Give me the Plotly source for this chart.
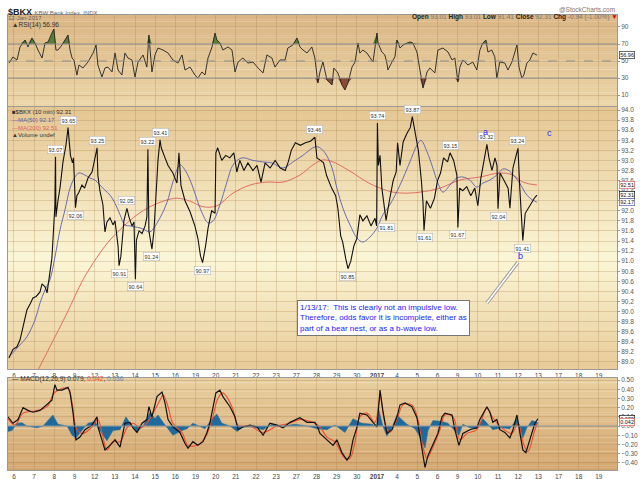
#######
# $BKX 10-minute chart with RSI(14), MAs and MACD panels
# (StockCharts style, three stacked panels)
######
import plotly.graph_objs as go
import numpy as np

# trading days from Dec 6 2016 (index 0) to Jan 19 2017 (index 29)
day_labels = ['6', '7', '8', '9', '12', '13', '14', '15', '16', '19', '20', '21', '22', '23',
              '27', '28', '29', '30', '<b>2017</b>', '4', '5', '6', '9', '10', '11', '12', '13',
              '17', '18', '19']

# price (closes incl. the spike extremes), x in trading days
price_t = [-0.25, -0.05, 0.15, 0.30, 0.45, 0.64, 0.80, 0.94, 1.10, 1.29,
           1.39, 1.54, 1.64, 1.74, 1.88, 1.98, 2.03, 2.06, 2.08, 2.18,
           2.28, 2.43, 2.58, 2.68, 2.73, 2.80, 2.90, 2.95, 3.05, 3.12,
           3.22, 3.37, 3.50, 3.67, 3.87, 4.02, 4.12, 4.16, 4.26, 4.41,
           4.51, 4.61, 4.76, 4.91, 5.01, 5.16, 5.21, 5.30, 5.45, 5.60,
           5.70, 5.85, 5.95, 6.02, 6.07, 6.20, 6.35, 6.50, 6.59, 6.64,
           6.69, 6.84, 6.94, 7.04, 7.14, 7.24, 7.30, 7.49, 7.64, 7.88,
           8.08, 8.18, 8.28, 8.48, 8.73, 8.97, 9.12, 9.25, 9.35, 9.50,
           9.62, 9.80, 9.97, 10.01, 10.10, 10.30, 10.50, 10.70, 10.90, 11.05,
           11.20, 11.40, 11.60, 11.85, 12.05, 12.25, 12.45, 12.70, 12.95, 13.20,
           13.45, 13.60, 13.75, 13.95, 14.20, 14.45, 14.70, 14.92, 15.02, 15.20,
           15.35, 15.50, 15.75, 15.95, 16.06, 16.20, 16.30, 16.45, 16.56, 16.70,
           16.85, 17.00, 17.15, 17.30, 17.50, 17.70, 17.90, 17.98, 18.02, 18.07,
           18.15, 18.24, 18.35, 18.45, 18.60, 18.80, 18.95, 19.02, 19.14, 19.30,
           19.50, 19.65, 19.75, 19.90, 20.05, 20.20, 20.28, 20.33, 20.45, 20.65,
           20.85, 21.00, 21.15, 21.30, 21.50, 21.62, 21.80, 21.96, 22.01, 22.10,
           22.25, 22.45, 22.65, 22.85, 23.00, 23.15, 23.30, 23.45, 23.55, 23.70,
           23.85, 23.95, 24.00, 24.10, 24.30, 24.50, 24.59, 24.74, 24.90, 24.99,
           25.08, 25.18, 25.23, 25.35, 25.50, 25.65, 25.80, 25.93]
price_v = [89.08, 89.25, 89.30, 89.44, 89.70, 90.03, 90.15, 90.27, 90.30, 90.39,
           90.55, 90.49, 90.37, 90.63, 91.06, 91.76, 92.12, 93.07, 91.88, 92.20,
           92.45, 92.97, 93.31, 93.65, 93.45, 93.10, 92.95, 93.05, 92.06, 92.30,
           92.37, 92.51, 92.45, 92.65, 92.77, 93.05, 93.25, 92.70, 92.40, 92.12,
           91.58, 91.78, 91.86, 91.72, 91.80, 91.30, 90.91, 91.10, 91.80, 92.05,
           91.88, 91.70, 91.78, 90.64, 91.42, 91.60, 91.55, 91.70, 91.88, 93.22,
           91.60, 91.24, 91.60, 92.30, 93.00, 93.41, 93.25, 93.05, 92.90, 92.75,
           92.55, 93.15, 92.50, 92.20, 91.98, 91.70, 91.45, 91.10, 90.97, 91.30,
           91.65, 92.00, 91.95, 93.15, 93.25, 93.00, 93.10, 93.05, 93.15, 92.77,
           93.00, 92.80, 92.95, 92.80, 92.90, 92.57, 92.95, 92.85, 93.00, 92.85,
           92.80, 92.97, 93.20, 93.35, 93.30, 93.35, 93.38, 93.46, 93.05, 93.00,
           92.95, 92.70, 92.45, 92.30, 92.05, 91.50, 91.38, 91.05, 90.85, 91.00,
           91.30, 91.45, 91.92, 91.80, 91.90, 91.70, 91.85, 91.70, 93.74, 92.90,
           93.10, 92.45, 92.10, 91.81, 92.17, 92.60, 92.77, 93.35, 92.90, 93.37,
           93.55, 93.65, 93.87, 93.50, 93.20, 92.60, 92.17, 91.61, 92.20, 92.05,
           92.25, 92.60, 92.75, 93.05, 92.97, 93.15, 93.00, 92.71, 91.67, 92.45,
           92.40, 92.48, 92.30, 92.45, 92.10, 92.65, 93.00, 93.32, 93.05, 92.80,
           93.05, 92.90, 92.04, 92.75, 92.60, 92.45, 92.05, 92.85, 93.10, 93.24,
           92.45, 91.86, 91.41, 91.95, 92.06, 92.15, 92.25, 92.31]

# labelled highs (+1) and lows (-1)
peak_t = [2.06, 2.68, 3.05, 4.12, 5.21, 5.60, 6.02, 6.64, 6.84, 7.24, 9.35, 14.92,
          16.56, 18.02, 18.45, 19.75, 20.33, 21.62, 22.01, 23.45, 24.00, 24.99, 25.23]
peak_v = [93.07, 93.65, 92.06, 93.25, 90.91, 92.05, 90.64, 93.22, 91.24, 93.41, 90.97, 93.46,
          90.85, 93.74, 91.81, 93.87, 91.61, 93.15, 91.67, 93.32, 92.04, 93.24, 91.41]
peak_dir = [1, 1, -1, 1, -1, 1, -1, 1, -1, 1, -1, 1, -1, 1, -1, 1, -1, 1, -1, 1, -1, 1, -1]

ma50_t = [-0.25, 0.30, 0.64, 1.04, 1.29, 1.54, 1.78, 2.03, 2.28, 2.53, 2.78, 3.02, 3.22,
          3.52, 3.77, 4.02, 4.26, 4.51, 4.76, 5.01, 5.26, 5.50, 5.75, 6.00, 6.25, 6.49,
          6.74, 7.24, 7.59, 7.88, 8.23, 8.48, 8.83, 9.12, 9.37, 9.62, 9.87, 10.21, 10.56,
          10.86, 11.30, 11.85, 12.35, 12.79, 13.34, 13.83, 14.33, 14.82, 15.07, 15.42,
          15.77, 16.01, 16.31, 16.66, 17.01, 17.30, 17.65, 18.00, 18.29, 18.64, 19.14,
          19.63, 19.98, 20.18, 20.48, 20.77, 21.02, 21.27, 21.62, 21.96, 22.26, 22.60,
          22.95, 23.25, 23.60, 23.94, 24.24, 24.49, 24.84, 25.08, 25.33, 25.58, 25.93]
ma50_v = [89.10, 89.34, 89.50, 89.83, 90.17, 90.43, 90.63, 91.08, 91.62, 92.02, 92.45, 92.67, 92.75,
          92.71, 92.65, 92.61, 92.51, 92.41, 92.31, 92.15, 91.92, 91.72, 91.70, 91.68, 91.66, 91.62,
          91.58, 91.86, 92.17, 92.57, 92.91, 92.81, 92.51, 92.17, 91.92, 91.76, 91.80, 92.12, 92.57,
          92.91, 93.05, 93.00, 92.97, 92.95, 92.85, 92.97, 93.10, 93.25, 93.27, 93.15,
          92.85, 92.45, 92.05, 91.72, 91.46, 91.38, 91.48, 91.66, 91.92, 92.12, 92.51,
          92.97, 93.30, 93.40, 93.17, 92.85, 92.55, 92.37, 92.51, 92.65, 92.67, 92.61,
          92.47, 92.55, 92.61, 92.71, 92.83, 92.81, 92.67, 92.55, 92.37, 92.25, 92.17]

ma200_t = [1.19, 1.78, 2.63, 3.42, 4.12, 4.76, 5.40, 6.10, 6.74, 7.39, 8.08, 8.73, 9.37,
           10.06, 10.86, 11.70, 12.54, 13.34, 14.18, 14.82, 15.32, 15.82, 16.31, 16.81,
           17.50, 18.15, 18.79, 19.48, 20.13, 21.12, 22.11, 23.10, 24.09, 24.74, 25.23, 25.93]
ma200_v = [88.84, 89.30, 89.97, 90.63, 91.08, 91.42, 91.68, 91.92, 92.08, 92.19, 92.25, 92.19, 92.08,
           92.10, 92.35, 92.51, 92.57, 92.57, 92.71, 92.91, 93.01, 92.97, 92.87, 92.75,
           92.57, 92.45, 92.37, 92.35, 92.37, 92.45, 92.61, 92.67, 92.75, 92.71, 92.57, 92.51]

rsi_t = [-0.25, -0.05, 0.15, 0.30, 0.55, 0.69, 0.89, 1.04, 1.19, 1.39, 1.54, 1.69, 1.88, 1.98,
         2.08, 2.18, 2.38, 2.68, 2.78, 2.88, 2.97, 3.12, 3.22, 3.42, 3.67, 3.92, 4.07, 4.16,
         4.36, 4.51, 4.66, 4.86, 5.01, 5.16, 5.35, 5.50, 5.65, 5.85, 6.00, 6.15, 6.40, 6.59,
         6.69, 6.84, 6.99, 7.14, 7.39, 7.64, 7.88, 8.13, 8.33, 8.48, 8.73, 8.97, 9.12, 9.32,
         9.47, 9.62, 9.82, 9.97, 10.06, 10.21, 10.36, 10.61, 10.81, 10.96, 11.11, 11.35, 11.60,
         11.85, 12.10, 12.35, 12.54, 12.79, 12.94, 13.19, 13.44, 13.58, 13.83, 14.03, 14.18,
         14.33, 14.53, 14.77, 14.92, 15.07, 15.17, 15.32, 15.52, 15.77, 15.86, 16.06, 16.26,
         16.41, 16.56, 16.76, 16.91, 17.06, 17.15, 17.30, 17.50, 17.65, 17.80, 18.00, 18.05,
         18.24, 18.39, 18.49, 18.54, 18.74, 18.89, 18.99, 19.14, 19.29, 19.48, 19.63, 19.78,
         19.98, 20.13, 20.23, 20.28, 20.48, 20.62, 20.87, 21.02, 21.27, 21.52, 21.72, 21.86,
         22.01, 22.11, 22.26, 22.51, 22.75, 22.95, 23.10, 23.25, 23.40, 23.50, 23.69, 23.84,
         23.94, 24.09, 24.34, 24.49, 24.69, 24.84, 24.94, 25.04, 25.18, 25.28, 25.43, 25.58,
         25.73, 25.93]
rsi_v = [47.6, 54.7, 51.2, 66.5, 74.7, 66.5, 77.1, 71.2, 62.9, 53.5, 71.2, 72.4, 82.9, 87.6,
         62.9, 62.9, 68.8, 80.6, 62.9, 53.5, 51.2, 33.5, 45.3, 41.8, 48.8, 59.4, 68.8, 45.3,
         31.2, 41.8, 42.9, 37.1, 59.4, 39.4, 33.5, 59.4, 53.5, 51.2, 31.2, 48.8, 57.1, 42.9,
         80.6, 37.1, 57.1, 65.3, 62.9, 59.4, 51.2, 47.6, 57.1, 39.4, 42.9, 33.5, 30.0, 37.1,
         33.5, 53.5, 66.5, 82.9, 74.7, 71.2, 62.9, 66.5, 62.9, 37.1, 48.8, 53.5, 47.6,
         48.8, 41.8, 36.0, 57.1, 53.5, 42.9, 51.2, 51.2, 65.3, 68.8, 77.1, 66.5,
         62.9, 59.4, 66.5, 53.5, 24.1, 37.1, 48.8, 27.6, 21.8, 41.8, 36.0, 21.8,
         15.9, 24.1, 42.9, 48.8, 71.2, 59.4, 62.9, 59.4, 53.5, 48.8, 82.9, 71.2,
         60.6, 57.1, 47.6, 39.4, 48.8, 55.0, 74.7, 65.3, 68.8, 71.2, 72.4, 71.2,
         60.6, 39.4, 21.8, 18.2, 37.1, 41.8, 36.0, 62.9, 65.3, 60.6, 51.2, 53.5,
         25.3, 42.9, 51.2, 45.3, 48.8, 39.4, 62.9, 71.2, 74.7, 60.6, 62.9, 55.0,
         30.0, 48.8, 47.6, 39.4, 48.8, 59.4, 68.8, 42.9, 30.0, 33.5, 47.6, 51.2,
         59.4, 56.96]

macd_t = [-0.30, -0.05, 0.20, 0.45, 0.69, 0.94, 1.29, 1.64, 1.88, 2.03, 2.13, 2.38, 2.63, 2.68,
          2.78, 2.93, 3.07, 3.27, 3.52, 3.87, 4.12, 4.16, 4.36, 4.51, 4.76, 5.01, 5.26, 5.50,
          5.75, 5.90, 6.10, 6.35, 6.59, 6.69, 6.84, 7.09, 7.34, 7.49, 7.64, 7.88, 8.23, 8.48,
          8.63, 8.87, 9.12, 9.37, 9.57, 9.72, 10.01, 10.21, 10.36, 10.71, 10.96, 11.11, 11.35,
          11.70, 12.05, 12.35, 12.69, 13.04, 13.34, 13.68, 14.18, 14.53, 14.92, 15.07, 15.17,
          15.52, 15.82, 16.01, 16.26, 16.51, 16.66, 16.81, 17.01, 17.15, 17.50, 17.80, 18.00,
          18.15, 18.29, 18.49, 18.74, 18.99, 19.14, 19.39, 19.73, 19.98, 20.13, 20.28, 20.38,
          20.53, 20.77, 21.02, 21.22, 21.37, 21.72, 21.86, 22.06, 22.26, 22.60, 22.95, 23.10,
          23.45, 23.60, 23.74, 23.94, 24.09, 24.34, 24.59, 24.74, 24.94, 25.08, 25.23, 25.38,
          25.58, 25.83, 25.98]
macd_v = [0.10, 0.03, 0.07, 0.20, 0.17, 0.15, 0.17, 0.23, 0.28, 0.45, 0.39, 0.39, 0.41, 0.42,
          0.36, 0.14, -0.15, -0.12, -0.04, 0.01, 0.10, -0.01, -0.15, -0.26, -0.21, -0.15, -0.23, 0.03,
          0.04, -0.02, -0.07, 0.03, 0.07, 0.21, 0.10, 0.32, 0.37, 0.25, 0.07, -0.01, -0.07, -0.19,
          -0.24, -0.17, -0.21, -0.17, -0.07, 0.04, 0.36, 0.39, 0.32, 0.21, 0.10, -0.04, -0.01,
          0.01, -0.01, -0.10, 0.03, 0.01, -0.02, 0.04, 0.09, 0.04, 0.04, -0.02, -0.08,
          -0.15, -0.21, -0.15, -0.29, -0.37, -0.32, -0.15, -0.01, 0.14, 0.12, 0.04, -0.01,
          0.39, 0.17, -0.08, -0.04, 0.10, 0.23, 0.25, 0.21, 0.09, -0.12, -0.34, -0.45,
          -0.32, -0.21, -0.08, 0.10, 0.14, 0.12, -0.04, -0.21, -0.08, -0.04, -0.02, 0.07,
          0.21, 0.15, 0.04, 0.07, -0.04, -0.07, -0.13, -0.04, 0.12, -0.07, -0.26, -0.29,
          -0.15, 0.03, 0.079]

signal_t = [-0.30, 0.05, 0.45, 0.94, 1.64, 1.93, 2.18, 2.68, 2.88, 3.12, 3.42, 3.87, 4.16, 4.41,
            4.61, 4.91, 5.26, 5.60, 5.90, 6.25, 6.59, 6.89, 7.24, 7.39, 7.64, 7.88, 8.33, 8.63,
            9.07, 9.47, 9.82, 10.11, 10.36, 10.81, 11.11, 11.70, 12.35, 13.04, 13.68, 14.18,
            14.82, 15.17, 15.52, 15.91, 16.41, 16.66, 16.91, 17.15, 17.50, 17.90, 18.15, 18.39,
            18.64, 18.99, 19.29, 19.73, 20.03, 20.28, 20.48, 20.77, 21.12, 21.37, 21.77, 22.11,
            22.46, 22.95, 23.45, 23.74, 24.19, 24.69, 24.99, 25.23, 25.48, 25.83, 25.98]
signal_v = [0.08, 0.01, 0.14, 0.16, 0.21, 0.34, 0.39, 0.41, 0.25, -0.04, -0.08, -0.01, 0.07, -0.12,
            -0.26, -0.17, -0.17, -0.02, 0.03, -0.02, 0.03, 0.14, 0.28, 0.34, 0.21, 0.03, -0.07, -0.21,
            -0.21, -0.13, 0.07, 0.30, 0.36, 0.21, 0.01, 0.00, -0.07, 0.00, 0.03, 0.07,
            0.04, -0.01, -0.12, -0.17, -0.35, -0.35, -0.17, 0.10, 0.14, 0.04, 0.32, 0.03,
            -0.07, 0.07, 0.23, 0.23, 0.07, -0.23, -0.35, -0.23, -0.04, 0.12, 0.10, -0.15,
            -0.08, -0.04, 0.19, 0.09, -0.02, -0.08, 0.03, -0.17, -0.28, -0.04, 0.042]

hist_t = [-0.30, -0.10, 0.15, 0.40, 0.64, 1.14, 1.44, 1.69, 1.93, 2.18, 2.63, 2.88, 3.07, 3.37,
          3.67, 4.02, 4.26, 4.61, 4.91, 5.26, 5.55, 5.85, 6.10, 6.40, 6.74, 6.99, 7.14, 7.39,
          7.64, 7.88, 8.33, 8.58, 8.87, 9.22, 9.47, 9.82, 10.06, 10.31, 10.71, 11.06, 11.35,
          11.85, 12.35, 12.79, 13.34, 13.93, 14.53, 15.02, 15.52, 15.91, 16.41, 16.81, 17.25,
          17.75, 18.00, 18.10, 18.29, 18.49, 18.74, 18.99, 19.48, 19.88, 20.13, 20.38, 20.53,
          20.77, 21.22, 21.52, 21.77, 22.06, 22.26, 22.60, 22.95, 23.25, 23.50, 23.74, 24.19,
          24.59, 24.94, 25.08, 25.23, 25.43, 25.68, 25.93]
hist_v = [-0.06, -0.05, 0.03, 0.035, 0.0, -0.02, 0.0, 0.06, 0.12, 0.02, 0.0, -0.10, -0.13, -0.05,
          0.03, 0.05, -0.05, -0.16, -0.05, -0.04, 0.10, 0.0, -0.06, 0.0, 0.15, 0.08, 0.12, 0.04,
          -0.03, -0.10, -0.05, -0.03, 0.03, -0.01, -0.03, 0.08, 0.13, 0.03, 0.0, -0.06, -0.01,
          -0.01, -0.04, 0.02, 0.0, 0.02, 0.0, -0.03, -0.04, 0.01, -0.07, 0.08, 0.03,
          0.02, -0.01, 0.17, 0.0, -0.11, -0.02, 0.12, 0.02, -0.03, -0.12, -0.24, -0.05,
          0.06, 0.05, 0.03, -0.03, -0.10, 0.02, -0.02, -0.03, 0.08, 0.02, -0.04, -0.02,
          -0.03, 0.08, 0.0, -0.13, -0.02, 0.06, 0.04]

wave_t = [23.40, 25.13, 26.57]
wave_v = [93.56, 91.10, 93.54]
wave_txt = ['a', 'b', 'c']

FONT = 'Arial, Liberation Sans, DejaVu Sans'
GRID = 'rgba(165,125,75,0.28)'

# plot area: x 8..617 px, y 15..470 px
def px(x):
    return (x - 8) / 609.0

def py(y):
    return (470 - y) / 455.0

rsi_dom = [py(106), 1.0]
price_dom = [py(369), py(107)]
macd_dom = [0.0, py(378)]

rsi = np.array(rsi_v)
rsi_hi = np.maximum(rsi, 70)
rsi_lo = np.minimum(rsi, 30)

data = [
    # RSI panel
    go.Scatter(x=rsi_t, y=[70] * len(rsi_t), mode='lines', line=dict(width=0),
               xaxis='x', yaxis='y', hoverinfo='skip'),
    go.Scatter(x=rsi_t, y=rsi_hi, mode='lines', line=dict(width=0), fill='tonexty',
               fillcolor='#5b7d36', xaxis='x', yaxis='y', hoverinfo='skip'),
    go.Scatter(x=rsi_t, y=[30] * len(rsi_t), mode='lines', line=dict(width=0),
               xaxis='x', yaxis='y', hoverinfo='skip'),
    go.Scatter(x=rsi_t, y=rsi_lo, mode='lines', line=dict(width=0), fill='tonexty',
               fillcolor='#8a4a36', xaxis='x', yaxis='y', hoverinfo='skip'),
    go.Scatter(x=rsi_t, y=rsi_v, mode='lines', line=dict(color='#222', width=0.9),
               xaxis='x', yaxis='y'),
    # price panel
    go.Scatter(x=ma200_t, y=ma200_v, mode='lines', line=dict(color='#e0605a', width=0.9, shape='spline'),
               xaxis='x2', yaxis='y2'),
    go.Scatter(x=ma50_t, y=ma50_v, mode='lines', line=dict(color='#5a5fae', width=0.9, shape='spline'),
               xaxis='x2', yaxis='y2'),
    go.Scatter(x=price_t, y=price_v, mode='lines', line=dict(color='#111', width=1.1),
               xaxis='x2', yaxis='y2'),
    # MACD panel
    go.Scatter(x=hist_t, y=hist_v, mode='lines', line=dict(color='#1f6a9c', width=0.5),
               fill='tozeroy', fillcolor='#1f6a9c', xaxis='x3', yaxis='y3'),
    go.Scatter(x=signal_t, y=signal_v, mode='lines', line=dict(color='#f04a30', width=1.1, shape='spline'),
               xaxis='x3', yaxis='y3'),
    go.Scatter(x=macd_t, y=macd_v, mode='lines', line=dict(color='#111', width=1.2),
               xaxis='x3', yaxis='y3'),
]

xrange_ = [-0.297, 29.9]
xcommon = dict(range=xrange_, tickvals=list(range(len(day_labels))), ticktext=day_labels,
               showgrid=True, gridcolor=GRID, gridwidth=0.8, zeroline=False,
               showline=True, mirror=True, linecolor='#9a9a9a', linewidth=0.8,
               tickfont=dict(size=6.5, color='#444', family=FONT), ticks='', ticklen=0,
               automargin=False)
ycommon = dict(side='right', showgrid=True, gridcolor=GRID, gridwidth=0.8, zeroline=False,
               showline=True, mirror=True, linecolor='#9a9a9a', linewidth=0.8,
               ticks='outside', ticklen=2, tickcolor='#999', automargin=False,
               tickfont=dict(size=6.5, color='#555', family=FONT))

layout = go.Layout(
    width=640, height=479,
    margin=dict(l=8, r=23, t=15, b=9),
    paper_bgcolor='white', plot_bgcolor='rgba(0,0,0,0)',
    showlegend=False,
    font=dict(family=FONT, size=7, color='#333'),
    xaxis=dict(xcommon, anchor='y', showticklabels=False),
    xaxis2=dict(xcommon, anchor='y2', matches='x'),
    xaxis3=dict(xcommon, anchor='y3', matches='x'),
    yaxis=dict(ycommon, domain=rsi_dom, range=[-2.9, 104.1], tickvals=[10, 30, 50, 70, 90],
               anchor='x'),
    yaxis2=dict(ycommon, domain=price_dom, range=[88.86, 94.06], dtick=0.2, tick0=89.0,
                tickformat='.1f', anchor='x2'),
    yaxis3=dict(ycommon, domain=macd_dom, range=[-0.478, 0.522], dtick=0.1, tick0=0,
                tickformat='.2f', anchor='x3'),
)
fig = go.Figure(data=data, layout=layout)

# tan gradient backgrounds of the panels
def mix(c1, c2, f):
    return 'rgb(%d,%d,%d)' % tuple(round(a + (b - a) * f) for a, b in zip(c1, c2))

def gradient(yref, stops, n=40):
    for i in range(n):
        f = (i + 0.5) / n
        for (p0, c0), (p1, c1) in zip(stops[:-1], stops[1:]):
            if p0 <= f <= p1:
                col = mix(c0, c1, (f - p0) / (p1 - p0))
                break
        fig.add_shape(type='rect', xref='paper', yref=yref, x0=0, x1=1,
                      y0=i / n, y1=(i + 1) / n + 0.002, fillcolor=col, line=dict(width=0),
                      layer='below')

gradient('y domain', [(0, (236, 214, 168)), (1, (219, 181, 131))])
gradient('y2 domain', [(0, (232, 203, 152)), (0.42, (251, 246, 214)), (1, (229, 198, 147))])
gradient('y3 domain', [(0, (211, 165, 110)), (1, (233, 208, 160))])

# RSI reference lines
for lvl, dash in [(70, 'solid'), (30, 'solid'), (50, 'dash')]:
    fig.add_shape(type='line', xref='x domain', yref='y', x0=0, x1=1, y0=lvl, y1=lvl,
                  line=dict(color='#8c8c8c', width=1, dash=dash))
fig.add_shape(type='line', xref='x3 domain', yref='y3', x0=0, x1=1, y0=0, y1=0,
              line=dict(color='#8a9aa8', width=1))

# high/low value tags
for t, v, d in zip(peak_t, peak_v, peak_dir):
    fig.add_annotation(x=t, y=v, xref='x2', yref='y2', text='%.2f' % v, showarrow=False,
                       yanchor='bottom' if d > 0 else 'top', yshift=3 * d,
                       font=dict(size=5.5, color='#333', family=FONT),
                       bgcolor='white', bordercolor='#aaa', borderwidth=0.5, borderpad=1)

# elliott wave letters
for t, v, s in zip(wave_t, wave_v, wave_txt):
    fig.add_annotation(x=t, y=v, xref='x2', yref='y2', text=s, showarrow=False,
                       font=dict(size=9, color='#2a2aff', family=FONT))

# comment box and its pointer
fig.add_shape(type='line', xref='x2', yref='y2', x0=23.45, y0=90.17, x1=24.99, y1=90.98,
              line=dict(color='#9a9a9a', width=3.5))
fig.add_shape(type='line', xref='x2', yref='y2', x0=23.45, y0=90.17, x1=24.99, y1=90.98,
              line=dict(color='white', width=1.5))
fig.add_annotation(x=px(297), y=py(300), xref='paper', yref='paper', xanchor='left', yanchor='top',
                   align='left', showarrow=False,
                   text='1/13/17:  This is clearly not an impulsive low.<br>'
                        'Therefore, odds favor it is incomplete, either as<br>'
                        'part of a bear nest, or as a b-wave low.',
                   font=dict(size=8, color='#1a1aff', family=FONT),
                   bgcolor='white', bordercolor='#777', borderwidth=1, borderpad=2)

# header texts
fig.add_annotation(x=px(6), y=py(5), xref='paper', yref='paper', xanchor='left', showarrow=False,
                   text='<b>$BKX</b> <span style="font-size:6px;color:#666">KBW Bank Index  INDX</span>',
                   font=dict(size=9, color='#222', family=FONT))
fig.add_annotation(x=px(6), y=py(13), xref='paper', yref='paper', xanchor='left', showarrow=False,
                   text='12-Jan-2017', font=dict(size=6, color='#666', family=FONT))
fig.add_annotation(x=px(617), y=py(4), xref='paper', yref='paper', xanchor='right', showarrow=False,
                   text='@StockCharts.com', font=dict(size=6.5, color='#777', family=FONT))
fig.add_annotation(x=px(620), y=py(11), xref='paper', yref='paper', xanchor='right', showarrow=False,
                   text='<b>Open</b> <span style="color:#777">93.01</span> <b>High</b> '
                        '<span style="color:#777">93.01</span> <b>Low</b> <span style="color:#777">91.41</span> '
                        '<b>Close</b> <span style="color:#777">92.31</span> <b>Chg</b> '
                        '<span style="color:#777">-0.94 (-1.00%)</span> <span style="color:#d00">▼</span>',
                   font=dict(size=6.5, color='#222', family=FONT))

# panel legends
fig.add_annotation(x=px(10), y=py(19), xref='paper', yref='paper', xanchor='left', showarrow=False,
                   text='▲RSI(14) 56.96', font=dict(size=6.5, color='#333', family=FONT))
fig.add_annotation(x=px(10), y=py(107), xref='paper', yref='paper', xanchor='left', yanchor='top',
                   align='left', showarrow=False,
                   text='■$BKX (10 min) 92.31<br>'
                        '<span style="color:#5a5fae">—MA(50) 92.17</span><br>'
                        '<span style="color:#e0605a">—MA(200) 92.51</span><br>'
                        '▲Volume undef',
                   font=dict(size=6, color='#333', family=FONT))
fig.add_annotation(x=px(10), y=py(385), xref='paper', yref='paper', xanchor='left', showarrow=False,
                   text='— MACD(12,26,9) 0.079, <span style="color:#f04a30">0.042</span>, '
                        '<span style="color:#5a8ab0">0.036</span>',
                   font=dict(size=6.5, color='#333', family=FONT))

# last-value tags on the right axes
tags = [('y', rsi_v[-1], '%.2f' % rsi_v[-1], '#333'),
        ('y2', ma200_v[-1], '%.2f' % ma200_v[-1], '#e0605a'),
        ('y2', price_v[-1], '%.2f' % price_v[-1], '#111'),
        ('y2', ma50_v[-1], '%.2f' % ma50_v[-1], '#5a5fae'),
        ('y3', macd_v[-1], '%.3f' % macd_v[-1], '#111'),
        ('y3', signal_v[-1], '%.3f' % signal_v[-1], '#e0605a')]
for yref, v, s, c in tags:
    fig.add_annotation(x=1.003, y=v, xref='paper', yref=yref, xanchor='left', showarrow=False,
                       text=s, font=dict(size=5.5, color='#111', family=FONT),
                       bgcolor='white', bordercolor=c, borderwidth=0.7, borderpad=0.5)

# drop the default page margin so the figure sits exactly in the window
page_fix = ("document.documentElement.style.overflow='hidden';"
            "document.body.style.margin='0';document.body.style.overflow='hidden';")
fig.write_html('out.html', post_script=page_fix, config={'displayModeBar': False})
